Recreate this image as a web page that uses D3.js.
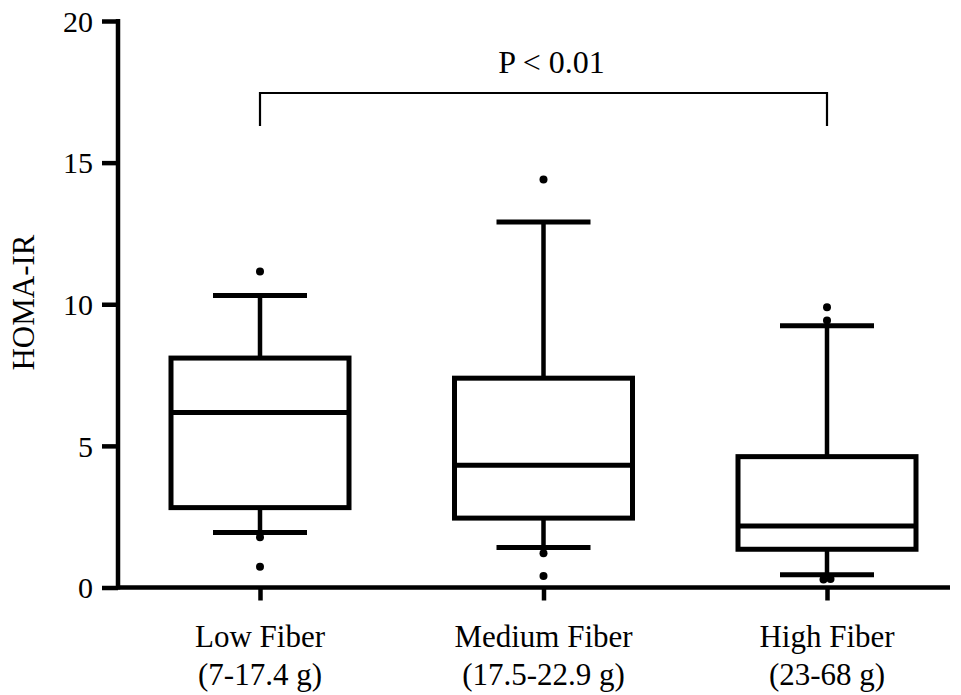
<!DOCTYPE html>
<html>
<head>
<meta charset="utf-8">
<script src="https://cdn.jsdelivr.net/npm/d3@7"></script>
<style>
  body { margin: 0; background: #fff; }
  svg text { font-family: "Liberation Serif", "Times New Roman", Times, serif !important; fill: #000; }
</style>
</head>
<body>
<div id="chart"></div>
<script>
// data
const categories = ["Low Fiber", "Medium Fiber", "High Fiber"];
const subLabels = ["(7-17.4 g)", "(17.5-22.9 g)", "(23-68 g)"];
const whiskerLow = [1.94, 1.41, 0.45];
const q1 = [2.82, 2.45, 1.35];
const median = [6.18, 4.32, 2.17];
const q3 = [8.1, 7.39, 4.62];
const whiskerHigh = [10.31, 12.9, 9.24];
const outliers = [
  [11.16, 1.77, 0.73],
  [14.4, 1.21, 0.41],
  [9.89, 9.43, 0.3, 0.28]
];
const yTicks = [0, 5, 10, 15, 20];
const pLabel = "P < 0.01";
const yTitle = "HOMA-IR";

const width = 961, height = 695;
const svg = d3.select("#chart").append("svg")
  .attr("width", width)
  .attr("height", height);

const y = d3.scaleLinear().domain([0, 20]).range([587.5, 21]);
const x = d3.scalePoint().domain(categories).range([260, 827]);
const axisLeft = 118, axisRight = 950;
const boxW = 183, capW = 94;

// axes
const yAxis = svg.append("g")
  .attr("transform", `translate(${axisLeft},0)`)
  .call(d3.axisLeft(y).tickValues(yTicks).tickSize(16).tickPadding(9));
yAxis.select(".domain").remove();
yAxis.selectAll(".tick line").attr("stroke", "#000").attr("stroke-width", 4.5);
yAxis.selectAll(".tick text").style("font-size", "30px").attr("dy", "0.34em");

svg.append("line")
  .attr("x1", axisLeft).attr("x2", axisLeft)
  .attr("y1", y(20) - 2).attr("y2", y(0) + 2)
  .attr("stroke", "#000").attr("stroke-width", 4.5);

const xAxis = svg.append("g")
  .attr("transform", `translate(0,${y(0)})`)
  .call(d3.axisBottom(x).tickSize(13).tickFormat(""));
xAxis.select(".domain").remove();
xAxis.selectAll(".tick line").attr("stroke", "#000").attr("stroke-width", 4.5);

svg.append("line")
  .attr("x1", axisLeft - 2).attr("x2", axisRight)
  .attr("y1", y(0)).attr("y2", y(0))
  .attr("stroke", "#000").attr("stroke-width", 4.5);

// category labels
const lab = svg.append("g").selectAll("text")
  .data(categories)
  .join("text")
  .attr("text-anchor", "middle")
  .attr("x", d => x(d))
  .style("font-size", "31px");
lab.append("tspan").attr("x", d => x(d)).attr("y", 647).text(d => d);
lab.append("tspan").attr("x", d => x(d)).attr("y", 685).text((d, i) => subLabels[i]);

// y title
svg.append("text")
  .attr("transform", `translate(34,${(232 + 373) / 2}) rotate(-90)`)
  .attr("text-anchor", "middle")
  .style("font-size", "31px")
  .text(yTitle);

// boxes
const g = svg.append("g").selectAll("g")
  .data(categories)
  .join("g")
  .attr("transform", d => `translate(${x(d)},0)`);

g.append("line") // upper whisker
  .attr("y1", (d, i) => y(q3[i])).attr("y2", (d, i) => y(whiskerHigh[i]))
  .attr("stroke", "#000").attr("stroke-width", 4.5);
g.append("line") // lower whisker
  .attr("y1", (d, i) => y(q1[i])).attr("y2", (d, i) => y(whiskerLow[i]))
  .attr("stroke", "#000").attr("stroke-width", 4.5);
g.append("line")
  .attr("x1", -capW / 2).attr("x2", capW / 2)
  .attr("y1", (d, i) => y(whiskerHigh[i])).attr("y2", (d, i) => y(whiskerHigh[i]))
  .attr("stroke", "#000").attr("stroke-width", 5);
g.append("line")
  .attr("x1", -capW / 2).attr("x2", capW / 2)
  .attr("y1", (d, i) => y(whiskerLow[i])).attr("y2", (d, i) => y(whiskerLow[i]))
  .attr("stroke", "#000").attr("stroke-width", 5);
g.append("rect")
  .attr("x", -boxW / 2 + 2.5).attr("width", boxW - 5)
  .attr("y", (d, i) => y(q3[i]))
  .attr("height", (d, i) => y(q1[i]) - y(q3[i]))
  .attr("fill", "#fff").attr("stroke", "#000").attr("stroke-width", 5);
g.append("line")
  .attr("x1", -boxW / 2 + 2.5).attr("x2", boxW / 2 - 2.5)
  .attr("y1", (d, i) => y(median[i])).attr("y2", (d, i) => y(median[i]))
  .attr("stroke", "#000").attr("stroke-width", 5);

// outliers; nudge sideways points that would sit on top of each other
g.each(function (d, i) {
  const vals = outliers[i].slice().sort((a, b) => a - b);
  const pts = [];
  vals.forEach(v => {
    const near = pts.filter(p => Math.abs(y(p.v) - y(v)) < 7);
    pts.push({ v, off: near.length ? 7 * near.length : 0 });
  });
  pts.forEach(p => {
    const clash = pts.some(q => q !== p && Math.abs(y(q.v) - y(p.v)) < 7);
    if (clash) p.off -= 3.5;
  });
  d3.select(this).selectAll("circle")
    .data(pts)
    .join("circle")
    .attr("cx", p => p.off)
    .attr("cy", p => y(p.v))
    .attr("r", 4)
    .attr("fill", "#000");
});

// significance bracket
const bx1 = x(categories[0]), bx2 = x(categories[2]);
svg.append("path")
  .attr("d", `M${bx1},126V93H${bx2}V126`)
  .attr("fill", "none").attr("stroke", "#000").attr("stroke-width", 2.2);
svg.append("text")
  .attr("x", (bx1 + bx2) / 2 + 8)
  .attr("y", 73)
  .attr("text-anchor", "middle")
  .style("font-size", "32px")
  .text(pLabel);
</script>
</body>
</html>
